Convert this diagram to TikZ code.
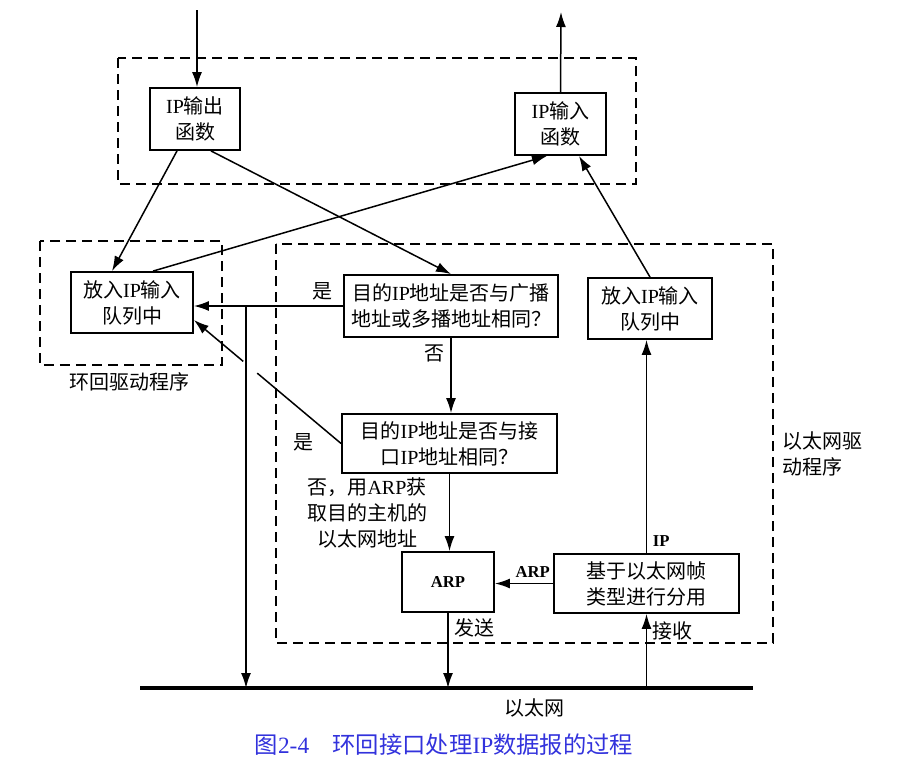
\documentclass[tikz,border=0pt]{standalone}
\usepackage{fontspec}
\setmainfont{Liberation Serif}
\newfontfamily\cjk{Noto Sans CJK SC}
\usepackage{tikz}
\usetikzlibrary{calc}
\usetikzlibrary{arrows.meta}
\usepackage{xcolor}
\definecolor{capblue}{RGB}{50,50,220}
\newcommand{\lat}[1]{{\rmfamily #1}}

\begin{document}
\begin{tikzpicture}[x=0.6pt,y=-0.6pt,
        font=\cjk\fontsize{12}{15.6}\selectfont,
        box/.style={draw,line width=1.1pt,align=center,inner sep=2pt},
        arr/.style={line width=0.9pt,-{Latex[length=9pt,width=6pt]}},
        drv/.style={line width=0.9pt,dash pattern=on 6pt off 3.6pt},
        tag/.style={font=\bfseries\fontsize{10}{11}\selectfont}]
        \useasboundingbox (0,0) rectangle (911,766);
        \draw[drv] (118,58) rectangle (636,184);
        \draw[drv] (40,241) rectangle (222,365);
        \draw[drv] (276,244) rectangle (773,643);
        \node[box,minimum width=54pt,minimum height=37.2pt] (ipout) at (195,119) {\lat{IP}输出\\函数};
        \node[box,minimum width=54.6pt,minimum height=37.2pt] (ipin) at (560.5,124) {\lat{IP}输入\\函数};
        \node[box,minimum width=73.2pt,minimum height=36.6pt] (lq) at (132,302.5) {放入\lat{IP}输入\\队列中};
        \node[box,minimum width=128.4pt,minimum height=37.2pt] (bc) at (451,306) {目的\lat{IP}地址是否与广播\\地址或多播地址相同？};
        \node[box,minimum width=74.4pt,minimum height=36.6pt] (rq) at (650,308.5) {放入\lat{IP}输入\\队列中};
        \node[box,minimum width=129pt,minimum height=35.4pt] (ifc) at (449.5,443.5) {目的\lat{IP}地址是否与接\\口\lat{IP}地址相同？};
        \node[box,minimum width=55.2pt,minimum height=36pt,font=\bfseries\fontsize{10}{12}\selectfont] (arp) at (448,582) {ARP};
        \node[box,minimum width=111pt,minimum height=35.4pt] (demux) at (646.5,583.5) {基于以太网帧\\类型进行分用};
        \coordinate (intop) at (197,10);
        \coordinate (outtop) at (561,12);
        \coordinate (tap) at (246,305);
        \coordinate (ethl) at (140,688);
        \coordinate (ethr) at (753,688);
        \coordinate (lqin) at ([yshift=-10.5pt]lq.east);
        \draw[line width=2.4pt] (ethl) -- (ethr);
        \draw[arr] (intop) -- (intop |- ipout.north);
        \draw[arr] (ipin.north) -- (outtop);
        \draw[arr] ([xshift=-10.8pt]ipout.south) -- ([xshift=-12pt]lq.north);
        \draw[arr] ([xshift=9.6pt]ipout.south) -- (bc.north);
        \draw[arr] ([xshift=12.6pt]lq.north) -- ([xshift=-8.1pt]ipin.south);
        \draw[arr] (rq.north) -- ([xshift=11.1pt]ipin.south);
        \draw[arr] (bc.west) -- (bc.west -| lq.east) node[pos=0.14,above] {是};
        \draw[arr] (bc.west -| tap) -- (tap |- ethl);
        \draw[line width=0.9pt] (ifc.west) -- ($(ifc.west)!0.57!(lqin)$);
        \draw[arr] ($(ifc.west)!0.665!(lqin)$) -- (lqin);
        \draw[arr] (bc.south) -- (bc.south |- ifc.north) node[pos=0.21,left] {否};
        \draw[arr] (ifc.south) -- (ifc.south |- arp.north);
        \draw[arr] (demux.west) -- (demux.west -| arp.east) node[pos=0.35,above,tag] {ARP};
        \draw[arr] (arp.south) -- (arp.south |- ethl) node[pos=0.2,right] {发送};
        \draw[arr] (demux.south |- ethl) -- (demux.south) node[pos=0.77,right] {接收};
        \draw[arr] (demux.north) -- (demux.north |- rq.south) node[at start,above right,tag] {IP};
        \node (yes) at (303,442) {是};
        \node[align=center] (noarp) at (367,513) {否，用\lat{ARP}获\\取目的主机的\\以太网地址};
        \node (lodrv) at (129,382) {环回驱动程序};
        \node[align=left,anchor=west] (ethdrv) at (777,454) {以太网驱\\动程序};
        \node (eth) at (534,708) {以太网};
        \node[text=capblue,font=\cjk\fontsize{14}{16}\selectfont] (cap) at (444,745) {图\lat{2-4}\quad 环回接口处理\lat{IP}数据报的过程};
\end{tikzpicture}
\end{document}
